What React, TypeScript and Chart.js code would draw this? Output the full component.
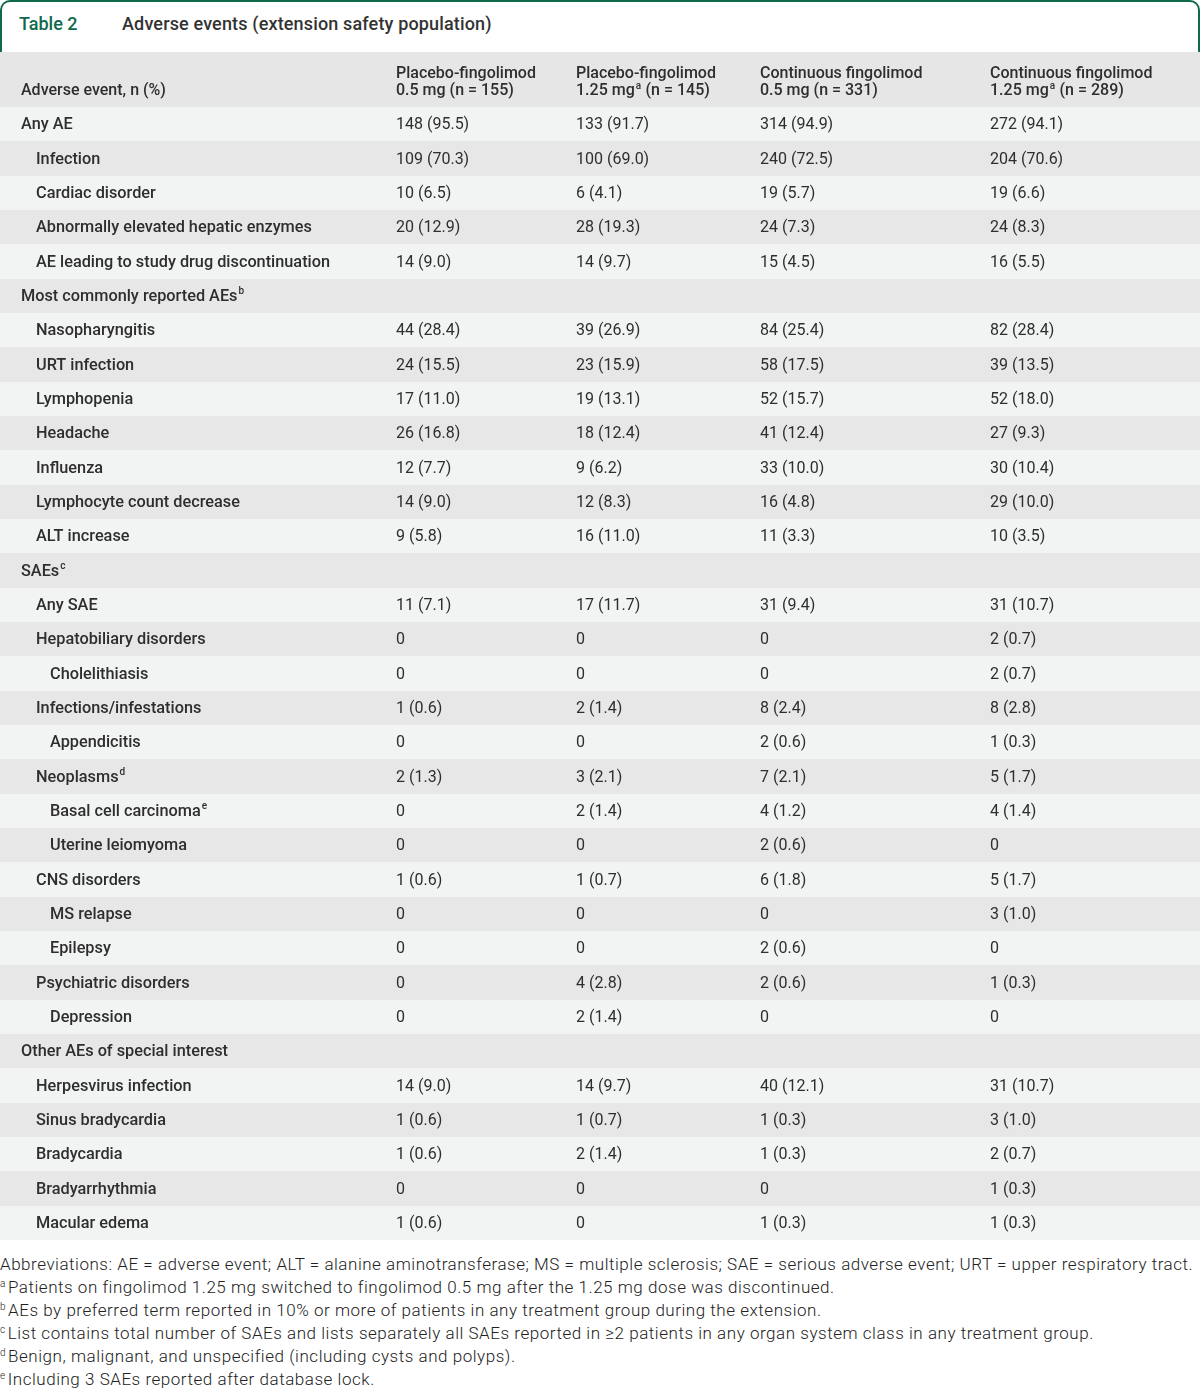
import React, { useEffect, useRef } from "react";
import { Chart, registerables } from "chart.js";

Chart.register(...registerables);

// ---------- data ----------
const tableNumber = "Table 2";
const tableTitle = "Adverse events (extension safety population)";
const stubHeader = "Adverse event, n (%)";
const columnHeadersLine1 = [
  "Placebo-fingolimod",
  "Placebo-fingolimod",
  "Continuous fingolimod",
  "Continuous fingolimod",
];
const columnHeadersLine2 = [
  "0.5 mg (n = 155)",
  "1.25 mg^a (n = 145)",
  "0.5 mg (n = 331)",
  "1.25 mg^a (n = 289)",
];

const rowLabels = [
  "Any AE",
  "Infection",
  "Cardiac disorder",
  "Abnormally elevated hepatic enzymes",
  "AE leading to study drug discontinuation",
  "Most commonly reported AEs^b",
  "Nasopharyngitis",
  "URT infection",
  "Lymphopenia",
  "Headache",
  "Influenza",
  "Lymphocyte count decrease",
  "ALT increase",
  "SAEs^c",
  "Any SAE",
  "Hepatobiliary disorders",
  "Cholelithiasis",
  "Infections/infestations",
  "Appendicitis",
  "Neoplasms^d",
  "Basal cell carcinoma^e",
  "Uterine leiomyoma",
  "CNS disorders",
  "MS relapse",
  "Epilepsy",
  "Psychiatric disorders",
  "Depression",
  "Other AEs of special interest",
  "Herpesvirus infection",
  "Sinus bradycardia",
  "Bradycardia",
  "Bradyarrhythmia",
  "Macular edema",
];

const rowLevels = [
  0, 1, 1, 1, 1, 0, 1, 1, 1, 1, 1, 1, 1, 0, 1, 1, 2, 1, 2, 1, 2, 2, 1, 2, 2,
  1, 2, 0, 1, 1, 1, 1, 1,
];

const placeboFingolimod05 = [
  "148 (95.5)", "109 (70.3)", "10 (6.5)", "20 (12.9)", "14 (9.0)", "",
  "44 (28.4)", "24 (15.5)", "17 (11.0)", "26 (16.8)", "12 (7.7)", "14 (9.0)", "9 (5.8)", "",
  "11 (7.1)", "0", "0", "1 (0.6)", "0", "2 (1.3)", "0", "0", "1 (0.6)", "0", "0", "0", "0", "",
  "14 (9.0)", "1 (0.6)", "1 (0.6)", "0", "1 (0.6)",
];
const placeboFingolimod125 = [
  "133 (91.7)", "100 (69.0)", "6 (4.1)", "28 (19.3)", "14 (9.7)", "",
  "39 (26.9)", "23 (15.9)", "19 (13.1)", "18 (12.4)", "9 (6.2)", "12 (8.3)", "16 (11.0)", "",
  "17 (11.7)", "0", "0", "2 (1.4)", "0", "3 (2.1)", "2 (1.4)", "0", "1 (0.7)", "0", "0", "4 (2.8)", "2 (1.4)", "",
  "14 (9.7)", "1 (0.7)", "2 (1.4)", "0", "0",
];
const continuousFingolimod05 = [
  "314 (94.9)", "240 (72.5)", "19 (5.7)", "24 (7.3)", "15 (4.5)", "",
  "84 (25.4)", "58 (17.5)", "52 (15.7)", "41 (12.4)", "33 (10.0)", "16 (4.8)", "11 (3.3)", "",
  "31 (9.4)", "0", "0", "8 (2.4)", "2 (0.6)", "7 (2.1)", "4 (1.2)", "2 (0.6)", "6 (1.8)", "0", "2 (0.6)", "2 (0.6)", "0", "",
  "40 (12.1)", "1 (0.3)", "1 (0.3)", "0", "1 (0.3)",
];
const continuousFingolimod125 = [
  "272 (94.1)", "204 (70.6)", "19 (6.6)", "24 (8.3)", "16 (5.5)", "",
  "82 (28.4)", "39 (13.5)", "52 (18.0)", "27 (9.3)", "30 (10.4)", "29 (10.0)", "10 (3.5)", "",
  "31 (10.7)", "2 (0.7)", "2 (0.7)", "8 (2.8)", "1 (0.3)", "5 (1.7)", "4 (1.4)", "0", "5 (1.7)", "3 (1.0)", "0", "1 (0.3)", "0", "",
  "31 (10.7)", "3 (1.0)", "2 (0.7)", "1 (0.3)", "1 (0.3)",
];

const abbreviations =
  "Abbreviations: AE = adverse event; ALT = alanine aminotransferase; MS = multiple sclerosis; SAE = serious adverse event; URT = upper respiratory tract.";
const footnoteMarks = ["a", "b", "c", "d", "e"];
const footnoteTexts = [
  "Patients on fingolimod 1.25 mg switched to fingolimod 0.5 mg after the 1.25 mg dose was discontinued.",
  "AEs by preferred term reported in 10% or more of patients in any treatment group during the extension.",
  "List contains total number of SAEs and lists separately all SAEs reported in \u22652 patients in any organ system class in any treatment group.",
  "Benign, malignant, and unspecified (including cysts and polyps).",
  "Including 3 SAEs reported after database lock.",
];

// ---------- styles ----------
const TEAL = "#0f6a4d";
const TEXT = "#2e2e2e";
const HEADER_BG = "#e6e6e6";
const STRIPE_LIGHT = "#f2f3f3";
const STRIPE_DARK = "#e7e7e7";
const LABEL_X = [21, 36, 50];
const COLUMN_X = [396, 576, 760, 990];
const FAMILY = "Roboto, 'Liberation Sans', sans-serif";
const HEADER_FONT = `500 16px ${FAMILY}`;
const LABEL_FONT = `500 16.3px ${FAMILY}`;
const VALUE_FONT = `400 16px ${FAMILY}`;
const SUP_FONT = `500 10px ${FAMILY}`;
const HEADER_HEIGHT = 55;
const CANVAS_W = 1200;
const CANVAS_H = 1188;

function drawRich(ctx: CanvasRenderingContext2D, text: string, x: number, y: number, font: string) {
  const parts = text.split(/\^(\w)/);
  let cx = x;
  parts.forEach((p, k) => {
    if (!p) return;
    if (k % 2 === 0) {
      ctx.font = font;
      ctx.fillText(p, cx, y);
      cx += ctx.measureText(p).width;
    } else {
      ctx.font = SUP_FONT;
      ctx.fillText(p, cx + 1, y - 5);
      cx += ctx.measureText(p).width + 1.5;
    }
  });
}

const valueColumns = [
  placeboFingolimod05,
  placeboFingolimod125,
  continuousFingolimod05,
  continuousFingolimod125,
];

const tablePlugin = {
  id: "tableCells",
  beforeDatasetsDraw(chart: any) {
    const { ctx, chartArea } = chart;
    const y = chart.scales.y;
    const x = chart.scales.x;
    ctx.save();
    ctx.fillStyle = HEADER_BG;
    ctx.fillRect(chartArea.left, 0, chartArea.right - chartArea.left, chartArea.top);
    const step = rowLabels.length > 1 ? y.getPixelForValue(1) - y.getPixelForValue(0) : chartArea.height;
    rowLabels.forEach((_, i) => {
      const c = y.getPixelForValue(i);
      ctx.fillStyle = i % 2 === 0 ? STRIPE_LIGHT : STRIPE_DARK;
      const top = Math.round(c - step / 2);
      const bot = Math.round(c + step / 2);
      ctx.fillRect(chartArea.left, top, chartArea.right - chartArea.left, bot - top);
    });
    ctx.fillStyle = TEXT;
    ctx.textBaseline = "middle";
    ctx.textAlign = "left";
    const line1 = chartArea.top - 33;
    const line2 = chartArea.top - 16;
    drawRich(ctx, stubHeader, x.getPixelForValue(LABEL_X[0]), line2, HEADER_FONT);
    columnHeadersLine1.forEach((t, j) => drawRich(ctx, t, x.getPixelForValue(COLUMN_X[j]), line1, HEADER_FONT));
    columnHeadersLine2.forEach((t, j) => drawRich(ctx, t, x.getPixelForValue(COLUMN_X[j]), line2, HEADER_FONT));
    ctx.restore();
  },
  afterDatasetsDraw(chart: any) {
    const { ctx } = chart;
    const y = chart.scales.y;
    const x = chart.scales.x;
    ctx.save();
    ctx.fillStyle = TEXT;
    ctx.textBaseline = "middle";
    ctx.textAlign = "left";
    rowLabels.forEach((label, i) => {
      const py = y.getPixelForValue(i) + 1;
      drawRich(ctx, label, x.getPixelForValue(LABEL_X[rowLevels[i]]), py, LABEL_FONT);
      valueColumns.forEach((col, j) => {
        if (col[i]) drawRich(ctx, col[i], x.getPixelForValue(COLUMN_X[j]), py, VALUE_FONT);
      });
    });
    ctx.restore();
  },
};

export default function App() {
  const canvasRef = useRef<HTMLCanvasElement | null>(null);

  useEffect(() => {
    document.body.style.margin = "0";
    const canvas = canvasRef.current;
    if (!canvas) return;
    const chart = new Chart(canvas, {
      type: "bar",
      data: {
        labels: rowLabels,
        datasets: [],
      },
      options: {
        responsive: false,
        animation: false,
        devicePixelRatio: 1,
        indexAxis: "y",
        events: [],
        layout: { padding: { top: HEADER_HEIGHT, left: 0, right: 0, bottom: 0 } },
        plugins: {
          legend: { display: false },
          tooltip: { enabled: false },
          title: { display: false },
        },
        scales: {
          x: { type: "linear", min: 0, max: CANVAS_W, display: false },
          y: { type: "category", display: false, offset: true },
        },
      },
      plugins: [tablePlugin],
    } as any);
    return () => chart.destroy();
  }, []);

  return (
    <div style={{ width: 1200, fontFamily: FAMILY, color: TEXT, overflow: "hidden" }}>
      <div
        style={{
          position: "relative",
          height: 52,
          boxSizing: "border-box",
          borderTop: `2.5px solid ${TEAL}`,
          borderLeft: `2.5px solid ${TEAL}`,
          borderRight: `2.5px solid ${TEAL}`,
          borderRadius: "10px 10px 0 0",
          background: "#fff",
        }}
      >
        <span
          style={{
            position: "absolute",
            left: 17,
            top: 11,
            fontSize: 18,
            fontWeight: 500,
            lineHeight: "22px",
            color: TEAL,
          }}
        >
          {tableNumber}
        </span>
        <span
          style={{
            position: "absolute",
            left: 120,
            top: 11,
            fontSize: 18,
            fontWeight: 500,
            lineHeight: "22px",
            letterSpacing: "0.15px",
            color: "#333",
          }}
        >
          {tableTitle}
        </span>
      </div>
      <canvas ref={canvasRef} width={CANVAS_W} height={CANVAS_H} style={{ display: "block" }} />
      <div
        style={{
          paddingTop: 13,
          fontSize: 17,
          lineHeight: "23px",
          fontWeight: 300,
          letterSpacing: "0.53px",
          color: "#222",
          whiteSpace: "nowrap",
        }}
      >
        <div>{abbreviations}</div>
        {footnoteTexts.map((t, i) => (
          <div key={i}>
            <sup style={{ fontSize: 10, verticalAlign: "top", lineHeight: "16px", marginRight: 2 }}>{footnoteMarks[i]}</sup>
            {t}
          </div>
        ))}
      </div>
    </div>
  );
}
